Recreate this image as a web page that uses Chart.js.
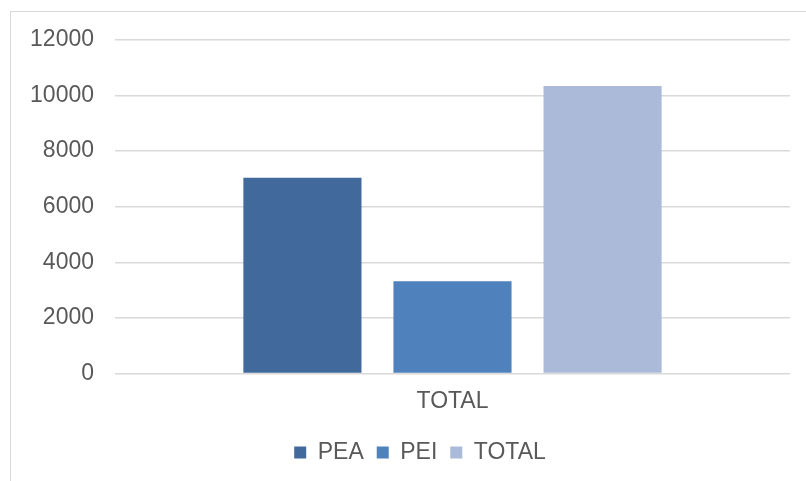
<!DOCTYPE html>
<html>
<head>
<meta charset="utf-8">
<script src="https://cdn.jsdelivr.net/npm/chart.js@4/dist/chart.umd.min.js"></script>
<style>
  html, body { margin: 0; padding: 0; background: #fff; overflow: hidden; }
  #frame { position: absolute; left: 10px; top: 11px; width: 900px; height: 600px; border: 1.5px solid #d9d9d9; }
  #wrap { position: absolute; left: 0; top: 0; width: 806px; height: 481px; }
</style>
</head>
<body>
<div id="frame"></div>
<div id="wrap"><canvas id="chart" width="806" height="481"></canvas></div>
<script>
// Data
const categories = ['TOTAL'];
const seriesNames = ['PEA', 'PEI', 'TOTAL'];
const seriesValues = [[7040], [3320], [10340]];
const seriesColors = ['#41699b', '#4f81bd', '#abbad8'];
const yTicks = [0, 2000, 4000, 6000, 8000, 10000, 12000];

const labelFont = { family: 'Liberation Sans', size: 23 };
const textColor = '#595959';

const datasets = seriesNames.map((name, i) => ({
    label: name,
    data: seriesValues[i],
    backgroundColor: seriesColors[i],
    borderWidth: 0,
    categoryPercentage: 0.667,
    barPercentage: 0.787
}));

// legend sits a bit right of the canvas centre in the reference
const shiftLegend = {
    id: 'shiftLegend',
    afterLayout(chart) {
        chart.legend.left += 25;
        chart.legend.right += 25;
    }
};

new Chart(document.getElementById('chart').getContext('2d'), {
    type: 'bar',
    data: { labels: categories, datasets: datasets },
    plugins: [shiftLegend],
    options: {
        responsive: false,
        animation: false,
        layout: { padding: { left: 0, right: 16, top: 40, bottom: 7 } },
        scales: {
            x: {
                grid: { display: false },
                border: { display: false },
                afterFit: scale => { scale.height += 7; },
                ticks: { color: textColor, font: labelFont, padding: 6 }
            },
            y: {
                min: 0,
                max: 12000,
                afterBuildTicks: scale => { scale.ticks = yTicks.map(v => ({ value: v })); },
                afterFit: scale => { scale.width = 115; },
                grid: { color: '#d9d9d9', lineWidth: 1.5, drawTicks: false },
                border: { display: false },
                ticks: { color: textColor, font: labelFont, padding: 21, callback: v => String(v) }
            }
        },
        plugins: {
            legend: {
                position: 'bottom',
                labels: {
                    color: textColor,
                    font: labelFont,
                    boxWidth: 12,
                    boxHeight: 12,
                    padding: 13
                }
            },
            tooltip: { enabled: false }
        }
    }
});
</script>
</body>
</html>
